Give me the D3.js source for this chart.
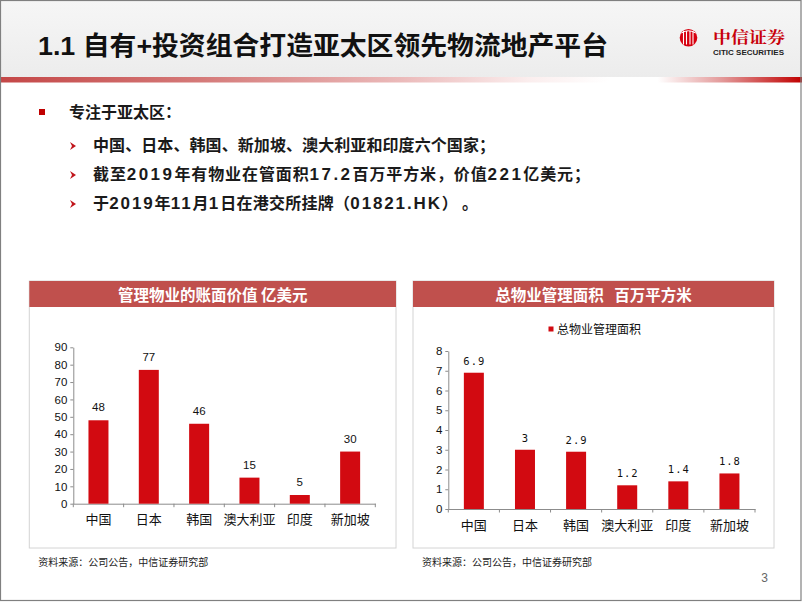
<!DOCTYPE html>
<html><head><meta charset="utf-8">
<script src="https://cdn.jsdelivr.net/npm/d3@7/dist/d3.min.js"></script>
<style>
html,body{margin:0;padding:0;background:#fff;}
svg{display:block;}
</style></head>
<body><div id="chart"></div>
<script>
// ---- data ----
const categories = ['中国','日本','韩国','澳大利亚','印度','新加坡'];
const bookValue = [48, 77, 46, 15, 5, 30];          // 亿美元
const areaValue = [6.9, 3, 2.9, 1.2, 1.4, 1.8];      // 百万平方米
const leftTicks = [0,10,20,30,40,50,60,70,80,90];
const rightTicks = [0,1,2,3,4,5,6,7,8];
const leftTitle = '管理物业的账面价值 亿美元';
const rightTitle = '总物业管理面积\u00a0\u00a0\u00a0百万平方米';
const legendLabel = '总物业管理面积';
const sourceText = '资料来源：公司公告，中信证券研究部';
const pageTitle = '1.1 自有+投资组合打造亚太区领先物流地产平台';

const CJK = '"Noto Sans CJK SC", "Noto Sans", sans-serif';
const ARIAL = '"Liberation Sans", Arial, "Noto Sans CJK SC", sans-serif';
const BAR = '#d20a11';
const HEAD = '#c0504d';

const svg = d3.select('#chart').append('svg').attr('width',802).attr('height',602);
const defs = svg.append('defs');

// header background
const hg = defs.append('linearGradient').attr('id','hg').attr('x1',0).attr('y1',0).attr('x2',0).attr('y2',1);
hg.append('stop').attr('offset',0).attr('stop-color','#f6f6f6');
hg.append('stop').attr('offset',1).attr('stop-color','#ececec');
svg.append('rect').attr('x',0).attr('y',0).attr('width',802).attr('height',78).attr('fill','url(#hg)');

// red rule gradient
const rg = defs.append('linearGradient').attr('id','rg').attr('x1',0).attr('y1',0).attr('x2',1).attr('y2',0);
[[0,'#c44747'],[0.25,'#d57a79'],[0.5,'#ebbaba'],[0.66,'#fbeeee'],[0.76,'#ffffff'],[0.82,'#ffffff'],[0.9,'#e39a9a'],[1,'#c00000']]
  .forEach(([o,c])=>rg.append('stop').attr('offset',o).attr('stop-color',c));
svg.append('rect').attr('x',0).attr('y',77).attr('width',802).attr('height',5.5).attr('fill','url(#rg)');

// title
svg.append('text').attr('x',38).attr('y',55).attr('textLength',570).attr('lengthAdjust','spacingAndGlyphs')
  .style('font-family','"Liberation Sans Narrow", "Liberation Sans", "Noto Sans CJK SC", sans-serif')
  .style('font-weight','bold').style('font-size','26px').attr('fill','#111').text(pageTitle);

// logo
const logo = svg.append('g');
logo.append('circle').attr('cx',688.5).attr('cy',37.8).attr('r',8.8).attr('fill','#d7000f');
[-5,-2,1.5,4.5].forEach(dx=>logo.append('line').attr('x1',688.5+dx).attr('x2',688.5+dx)
  .attr('y1',31).attr('y2',44.5).attr('stroke','#fff').attr('stroke-width',1.1));
logo.append('path').attr('d','M681.5,33 Q688.5,28.5 695.5,33').attr('fill','none').attr('stroke','#fff').attr('stroke-width',1);
logo.append('text').attr('x',713).attr('y',42.5).attr('textLength',72).attr('lengthAdjust','spacingAndGlyphs')
  .style('font-family','"Noto Serif CJK SC","Noto Sans CJK SC",serif').style('font-weight','bold')
  .style('font-size','15.5px').attr('fill','#c8000a').text('中信证券');
logo.append('text').attr('x',713).attr('y',54.8).attr('textLength',71).attr('lengthAdjust','spacingAndGlyphs')
  .style('font-family',ARIAL).style('font-weight','bold').style('font-size','7.5px').attr('fill','#222').text('CITIC SECURITIES');

// bullets
svg.append('rect').attr('x',39).attr('y',109).attr('width',6).attr('height',6).attr('fill','#c00000');
function txt(x,y,parts,len){
  const t = svg.append('text').attr('x',x).attr('y',y).attr('fill','#1a1a1a')
    .style('font-family',CJK).style('font-weight','bold').style('font-size','16px');
  if(len) t.attr('textLength',len).attr('lengthAdjust','spacing');
  parts.forEach(p=>{
    const s = t.append('tspan').text(p);
    if(/^[0-9.A-Za-z]+$/.test(p)){ s.style('font-family',ARIAL).style('font-size','17px').style('letter-spacing','1.6px'); }
  });
  return t;
}
txt(69,117.5,['专注于亚太区：']);
function arrow(y){
  svg.append('path').attr('d',`M70,${y-4} L76,${y} L70,${y+4} L72,${y} Z`).attr('fill','#c0141a');
}
arrow(146); arrow(175); arrow(204);
txt(93,150.5,['中国、日本、韩国、新加坡、澳大利亚和印度六个国家；'],402);
txt(93,179.5,['截至','2019','年有物业在管面积','17.2','百万平方米，价值','221','亿美元；'],497);
txt(93,208.5,['于','2019','年','11','月','1','日在港交所挂牌（','01821.HK','）','\u00a0','。'],385);

// frame
svg.append('rect').attr('x',0.5).attr('y',0.5).attr('width',800.5).attr('height',600).attr('fill','none').attr('stroke','#808080').attr('stroke-width',1.2);

// chart builder
function panel(o){
  const g = svg.append('g');
  g.append('rect').attr('x',o.px0).attr('y',281).attr('width',o.px1-o.px0).attr('height',267)
    .attr('fill','#fff').attr('stroke','#d4d4d4').attr('stroke-width',1);
  g.append('rect').attr('x',o.px0).attr('y',281).attr('width',o.px1-o.px0).attr('height',26).attr('fill',HEAD);
  g.append('text').attr('x',(o.px0+o.px1)/2).attr('y',300.5).attr('text-anchor','middle')
    .style('font-family',CJK).style('font-weight','bold').style('font-size','15.5px').attr('fill','#fff').text(o.title);

  const x = d3.scaleBand().domain(categories).range([o.x0,o.x1]).paddingInner(0).paddingOuter(0);
  const y = d3.scaleLinear().domain([0,o.max]).range([o.y0,o.y1]);

  // y axis
  const ya = g.append('g').attr('transform',`translate(${o.x0},0)`)
    .call(d3.axisLeft(y).tickValues(o.ticks).tickSize(3).tickSizeOuter(0).tickPadding(3).tickFormat(d3.format('d')));
  ya.select('.domain').attr('stroke','#8c8c8c');
  ya.selectAll('.tick line').attr('stroke','#8c8c8c');
  ya.selectAll('.tick text').style('font-family',ARIAL).style('font-size','11.5px').attr('fill','#111');

  // x axis
  const xa = g.append('g').attr('transform',`translate(0,${o.y0})`)
    .call(d3.axisBottom(x).tickSize(0).tickSizeOuter(0).tickPadding(0));
  xa.select('.domain').attr('stroke','#8c8c8c');
  xa.selectAll('.tick text').attr('dy',0).attr('y',o.labY)
    .style('font-family',CJK).style('font-size','13px').attr('fill','#111');
  const bounds = categories.map(c=>x(c)).concat([o.x1]);
  g.selectAll('.bt').data(bounds).join('line').attr('x1',d=>d).attr('x2',d=>d)
    .attr('y1',o.y0).attr('y2',o.y0+3.5).attr('stroke','#8c8c8c');

  const bw = 20;
  g.selectAll('.bar').data(o.values).join('rect')
    .attr('x',(d,i)=>x(categories[i])+x.bandwidth()/2-bw/2)
    .attr('y',d=>y(d)).attr('width',bw).attr('height',d=>y(0)-y(d)).attr('fill',BAR);
  g.selectAll('.vl').data(o.values).join('text')
    .attr('x',(d,i)=>x(categories[i])+x.bandwidth()/2+o.vlShift)
    .attr('y',d=>y(d)-o.vlGap).attr('text-anchor','middle')
    .style('font-family',o.vlFont).style('font-size',o.vlSize).style('letter-spacing',o.vlSpacing)
    .attr('fill','#111').text(d=>d);

  g.append('text').attr('x',o.px0+9).attr('y',566).style('font-family',CJK).style('font-size','10px')
    .attr('fill','#222').text(sourceText);
  return g;
}

panel({px0:29.3,px1:396,x0:73.3,x1:375.3,y0:503.7,y1:347.3,max:90,ticks:leftTicks,values:bookValue,
  title:leftTitle,labY:20,vlGap:9,vlFont:ARIAL,vlSize:'11.5px',vlSpacing:'0px',vlShift:0});
const rp = panel({px0:413,px1:774,x0:448.3,x1:755,y0:509,y1:351,max:8,ticks:rightTicks,values:areaValue,
  title:rightTitle,labY:20.5,vlGap:8,vlFont:'"DejaVu Sans Mono","Liberation Mono",monospace',vlSize:'10.5px',vlSpacing:'1px',vlShift:0.5});

// legend (right chart)
rp.append('rect').attr('x',548.5).attr('y',326.5).attr('width',5).attr('height',5).attr('fill',BAR);
rp.append('text').attr('x',557).attr('y',333.8).style('font-family',CJK).style('font-size','12px').attr('fill','#111').text(legendLabel);

// page number
svg.append('text').attr('x',764.5).attr('y',582).attr('text-anchor','middle')
  .style('font-family',ARIAL).style('font-size','12px').attr('fill','#666').text('3');
</script></body></html>
